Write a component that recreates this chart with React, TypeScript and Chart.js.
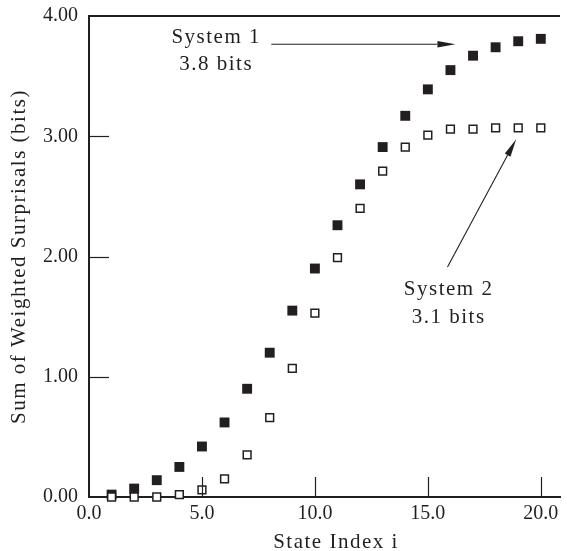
import React, { useEffect, useRef } from "react";
import { Chart, registerables } from "chart.js";

Chart.register(...registerables);

const stateIndex = [1, 2, 3, 4, 5, 6, 7, 8, 9, 10, 11, 12, 13, 14, 15, 16, 17, 18, 19, 20];
const system1 = [0.02, 0.07, 0.14, 0.25, 0.42, 0.62, 0.9, 1.2, 1.55, 1.9, 2.26, 2.6, 2.91, 3.17, 3.39, 3.55, 3.67, 3.74, 3.79, 3.81];
const system2 = [0.0, 0.0, 0.0, 0.02, 0.06, 0.15, 0.35, 0.66, 1.07, 1.53, 1.99, 2.4, 2.71, 2.91, 3.01, 3.06, 3.06, 3.07, 3.07, 3.07];
const xTicks = [0, 5, 10, 15, 20];
const yTicks = [0, 1, 2, 3, 4];

const xTitle = "State Index i";
const yTitle = "Sum of Weighted Surprisals (bits)";
const label1 = ["System 1", "3.8 bits"];
const label2 = ["System 2", "3.1 bits"];

// annotation anchors in data units
const label1Pos = { x: 5.63, y1: 3.775, y2: 3.551 };
const arrow1 = { x0: 8.07, y0: 3.765, x1: 16.22, y1: 3.765 };
const label2Pos = { x: 15.92, y1: 1.68, y2: 1.449 };
const arrow2 = { x0: 15.87, y0: 1.913, x1: 18.91, y1: 2.975 };

const INK = "#231f20";
const FONT = "'Liberation Serif', 'Times New Roman', serif";

function drawArrow(ctx: CanvasRenderingContext2D, x0: number, y0: number, x1: number, y1: number) {
  const ang = Math.atan2(y1 - y0, x1 - x0);
  const headLen = 18;
  const headHalf = 3.2;
  const bx = x1 - headLen * Math.cos(ang);
  const by = y1 - headLen * Math.sin(ang);
  ctx.beginPath();
  ctx.moveTo(x0, y0);
  ctx.lineTo(bx, by);
  ctx.stroke();
  ctx.beginPath();
  ctx.moveTo(x1, y1);
  ctx.lineTo(bx + headHalf * Math.sin(ang), by - headHalf * Math.cos(ang));
  ctx.lineTo(bx - headHalf * Math.sin(ang), by + headHalf * Math.cos(ang));
  ctx.closePath();
  ctx.fill();
}

const decorPlugin = {
  id: "decor",
  beforeDraw(chart: any) {
    (chart.ctx as any).letterSpacing = "0px";
  },
  afterDraw(chart: any) {
    const { ctx, chartArea } = chart;
    const x = chart.scales.x;
    const y = chart.scales.y;
    ctx.save();
    ctx.strokeStyle = INK;
    ctx.fillStyle = INK;
    // top frame line
    ctx.lineWidth = 2;
    ctx.beginPath();
    ctx.moveTo(chartArea.left - 1, chartArea.top);
    ctx.lineTo(chartArea.right, chartArea.top);
    ctx.stroke();
    // inward ticks
    ctx.lineWidth = 1.2;
    yTicks.forEach((v) => {
      if (v <= y.min || v >= y.max) return;
      const py = Math.round(y.getPixelForValue(v)) + 0.5;
      ctx.beginPath();
      ctx.moveTo(chartArea.left, py);
      ctx.lineTo(chartArea.left + 20, py);
      ctx.stroke();
    });
    xTicks.forEach((v) => {
      if (v <= x.min || v >= x.max) return;
      const px = Math.round(x.getPixelForValue(v)) + 0.5;
      ctx.beginPath();
      ctx.moveTo(px, chartArea.bottom);
      ctx.lineTo(px, chartArea.bottom - 20);
      ctx.stroke();
    });
    // arrows
    ctx.lineWidth = 1.1;
    drawArrow(ctx, x.getPixelForValue(arrow1.x0), y.getPixelForValue(arrow1.y0), x.getPixelForValue(arrow1.x1), y.getPixelForValue(arrow1.y1));
    drawArrow(ctx, x.getPixelForValue(arrow2.x0), y.getPixelForValue(arrow2.y0), x.getPixelForValue(arrow2.x1), y.getPixelForValue(arrow2.y1));
    // texts
    ctx.font = `21px ${FONT}`;
    (ctx as any).letterSpacing = "1.5px";
    ctx.textAlign = "center";
    ctx.textBaseline = "alphabetic";
    ctx.fillText(label1[0], x.getPixelForValue(label1Pos.x), y.getPixelForValue(label1Pos.y1));
    ctx.fillText(label1[1], x.getPixelForValue(label1Pos.x), y.getPixelForValue(label1Pos.y2));
    ctx.fillText(label2[0], x.getPixelForValue(label2Pos.x), y.getPixelForValue(label2Pos.y1));
    ctx.fillText(label2[1], x.getPixelForValue(label2Pos.x), y.getPixelForValue(label2Pos.y2));
    // axis titles
    ctx.fillText(xTitle, 336, 548);
    ctx.save();
    ctx.translate(25, (chartArea.top + chartArea.bottom) / 2);
    ctx.rotate(-Math.PI / 2);
    ctx.fillText(yTitle, 0, 0);
    ctx.restore();
    (ctx as any).letterSpacing = "0px";
    ctx.restore();
  },
};

export default function App() {
  const ref = useRef<HTMLCanvasElement | null>(null);
  useEffect(() => {
    document.body.style.margin = "0";
    const canvas = ref.current;
    if (!canvas) return;
    const chart = new Chart(canvas, {
      type: "scatter",
      data: {
        datasets: [
          {
            label: "System 2",
            data: stateIndex.map((i, k) => ({ x: i, y: system2[k] })),
            pointStyle: "rect",
            pointRadius: 5.5,
            pointBorderWidth: 1.5,
            pointBackgroundColor: "#ffffff",
            pointBorderColor: INK,
            clip: false as any,
          },
          {
            label: "System 1",
            data: stateIndex.map((i, k) => ({ x: i, y: system1[k] })),
            pointStyle: "rect",
            pointRadius: 7,
            pointBorderWidth: 0,
            pointBackgroundColor: INK,
            pointBorderColor: INK,
            clip: false as any,
          },
        ],
      },
      options: {
        animation: false,
        responsive: false,
        devicePixelRatio: 1,
        events: [],
        layout: { padding: { top: 16, right: 0, left: 0, bottom: 0 } },
        plugins: {
          legend: { display: false },
          tooltip: { enabled: false },
        },
        scales: {
          x: {
            type: "linear",
            position: "bottom",
            min: 0,
            max: 20.85,
            grid: { display: false, drawTicks: false },
            border: { display: true, color: INK, width: 2 },
            ticks: {
              includeBounds: false,
              padding: 5,
              color: INK,
              font: { family: FONT, size: 20 },
              maxRotation: 0,
              callback: (v: any) => Number(v).toFixed(1),
            },
            afterBuildTicks: (s: any) => {
              s.ticks = xTicks.map((value) => ({ value }));
            },
            afterFit: (s: any) => {
              s.height = 54;
              s.paddingLeft = 0;
              s.paddingRight = 0;
            },
          },
          y: {
            type: "linear",
            min: 0,
            max: 4,
            grid: { display: false, drawTicks: false },
            border: { display: true, color: INK, width: 2 },
            ticks: {
              padding: 11,
              color: INK,
              font: { family: FONT, size: 20 },
              callback: (v: any) => Number(v).toFixed(2),
            },
            afterBuildTicks: (s: any) => {
              s.ticks = yTicks.map((value) => ({ value }));
            },
            afterFit: (s: any) => {
              s.width = 89;
              s.paddingTop = 0;
              s.paddingBottom = 0;
            },
          },
        },
      },
      plugins: [decorPlugin],
    });
    return () => chart.destroy();
  }, []);
  return <canvas ref={ref} width={567} height={551} style={{ display: "block" }} />;
}
